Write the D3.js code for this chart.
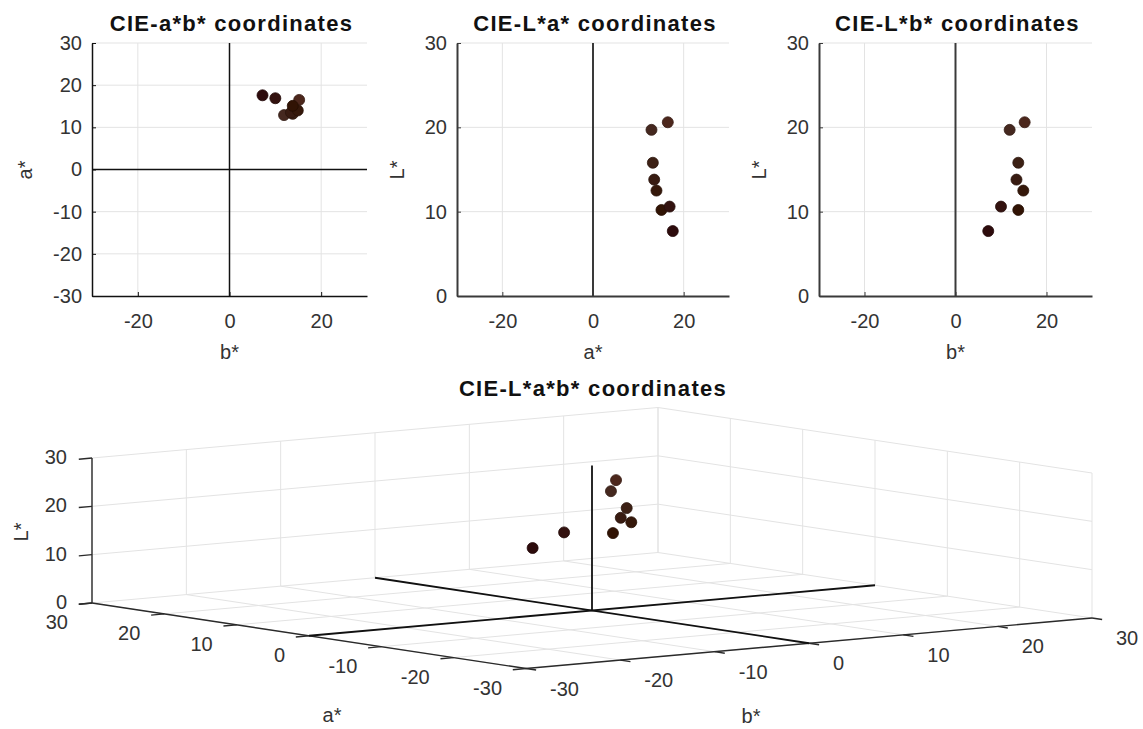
<!DOCTYPE html>
<html>
<head>
<meta charset="utf-8">
<script src="https://cdn.jsdelivr.net/npm/d3@7"></script>
<style>
  body { margin: 0; background: #fff; }
  svg { font-family: "Liberation Sans", Arial, sans-serif; }
  .tick text { font-size: 20px; fill: #333; }
  .ttl { font-size: 22px; font-weight: bold; fill: #111; letter-spacing: 1.3px; }
  .lbl { font-size: 20px; fill: #333; }
</style>
</head>
<body>
<script>
// measured samples: lightness, a*, b*
var pointL = [19.7, 20.6, 15.8, 13.8, 12.5, 10.2, 10.6, 7.7];
var pointA = [12.9, 16.5, 13.2, 13.5, 14.0, 15.1, 16.9, 17.6];
var pointB = [11.9, 15.2, 13.8, 13.4, 14.9, 13.8, 10.0, 7.2];

var ticksX2d = [-20, 0, 20];
var ticksAB = [-30, -20, -10, 0, 10, 20, 30];
var ticksL = [0, 10, 20, 30];
var ticks3d = [-30, -20, -10, 0, 10, 20, 30];

var titles = ["CIE-a*b* coordinates", "CIE-L*a* coordinates", "CIE-L*b* coordinates", "CIE-L*a*b* coordinates"];

var points = pointL.map(function(L, i) {
    return { L: L, a: pointA[i], b: pointB[i], color: d3.lab(L, pointA[i], pointB[i]).formatHex() };
});

// plain hyphen like matlab, not the unicode minus
var fmt = function(d) { return String(d); };

var svg = d3.select("body").append("svg")
    .attr("width", 1143)
    .attr("height", 729);

var gridColor = "#e3e3e3";

// ---------- 2D panels ----------
function panel2d(cfg) {
    var g = svg.append("g");
    var x = d3.scaleLinear().domain([-30, 30]).range([cfg.left, cfg.right]);
    var y = d3.scaleLinear().domain(cfg.yDomain).range([296, 43]);

    // grid
    g.selectAll(".gx").data(ticksX2d).enter().append("line")
        .attr("x1", function(d) { return x(d); }).attr("x2", function(d) { return x(d); })
        .attr("y1", y.range()[0]).attr("y2", y.range()[1])
        .attr("stroke", gridColor).attr("stroke-width", 1);
    g.selectAll(".gy").data(cfg.yTicks.filter(function(d) { return d !== cfg.yDomain[0]; })).enter().append("line")
        .attr("y1", function(d) { return y(d); }).attr("y2", function(d) { return y(d); })
        .attr("x1", cfg.left).attr("x2", cfg.right)
        .attr("stroke", gridColor).attr("stroke-width", 1);

    // axes
    var xAxis = d3.axisBottom(x).tickValues(ticksX2d).tickFormat(fmt).tickSizeInner(-4).tickSizeOuter(0).tickPadding(18);
    var yAxis = d3.axisLeft(y).tickValues(cfg.yTicks).tickFormat(fmt).tickSizeInner(-4).tickSizeOuter(0).tickPadding(10);
    var gx = g.append("g").attr("transform", "translate(0," + y.range()[0] + ")").call(xAxis);
    var gy = g.append("g").attr("transform", "translate(" + cfg.left + ",0)").call(yAxis);
    [gx, gy].forEach(function(a) {
        a.select(".domain").attr("stroke", cfg.axisColor).attr("stroke-width", cfg.axisWidth);
        a.selectAll(".tick line").attr("stroke", cfg.axisColor);
        a.selectAll(".tick text").attr("font-family", null).attr("font-size", null);
    });
    gx.selectAll(".tick text").attr("dy", "0.72em");

    // zero lines
    g.append("line")
        .attr("x1", x(0)).attr("x2", x(0)).attr("y1", y.range()[0]).attr("y2", y.range()[1])
        .attr("stroke", cfg.axisColor).attr("stroke-width", cfg.axisWidth);
    if (cfg.yDomain[0] < 0) {
        g.append("line")
            .attr("x1", cfg.left).attr("x2", cfg.right).attr("y1", y(0)).attr("y2", y(0))
            .attr("stroke", cfg.axisColor).attr("stroke-width", cfg.axisWidth);
    }

    // points
    g.selectAll("circle").data(points).enter().append("circle")
        .attr("cx", function(d) { return x(d[cfg.xKey]); })
        .attr("cy", function(d) { return y(d[cfg.yKey]); })
        .attr("r", 5.5)
        .attr("fill", function(d) { return d.color; })
        .attr("stroke", function(d) { return d3.color(d.color).darker(0.8); })
        .attr("stroke-width", 0.8);

    // text
    var cx = (cfg.left + cfg.right) / 2;
    g.append("text").attr("class", "ttl").attr("x", cx + 2).attr("y", 31)
        .attr("text-anchor", "middle").text(cfg.title);
    g.append("text").attr("class", "lbl").attr("x", cx).attr("y", 359)
        .attr("text-anchor", "middle").text(cfg.xLabel);
    g.append("text").attr("class", "lbl")
        .attr("transform", "translate(" + (cfg.left - cfg.yLabelOff) + ",170) rotate(-90)")
        .attr("text-anchor", "middle").text(cfg.yLabel);
}

panel2d({ left: 92, right: 367, yDomain: [-30, 30], yTicks: ticksAB, xKey: "b", yKey: "a",
    title: titles[0], xLabel: "b*", yLabel: "a*", axisColor: "#111", axisWidth: 1.5, yLabelOff: 60 });
panel2d({ left: 457, right: 729, yDomain: [0, 30], yTicks: ticksL, xKey: "a", yKey: "L",
    title: titles[1], xLabel: "a*", yLabel: "L*", axisColor: "#3a3a3a", axisWidth: 2, yLabelOff: 53 });
panel2d({ left: 819, right: 1092, yDomain: [0, 30], yTicks: ticksL, xKey: "b", yKey: "L",
    title: titles[2], xLabel: "b*", yLabel: "L*", axisColor: "#3a3a3a", axisWidth: 2, yLabelOff: 53 });

// ---------- 3D panel (orthographic view) ----------
var a3x = d3.scaleLinear().domain([30, -30]).range([92, 526]);
var a3y = d3.scaleLinear().domain([30, -30]).range([603, 668.5]);
var b3x = d3.scaleLinear().domain([-30, 30]).range([0, 566]);
var b3y = d3.scaleLinear().domain([-30, 30]).range([0, -50.5]);
var L3y = d3.scaleLinear().domain([0, 30]).range([0, -145]);

function proj(a, b, L) {
    return [a3x(a) + b3x(b), a3y(a) + b3y(b) + L3y(L)];
}

var g3 = svg.append("g");

function seg(p, q, color, w) {
    var s = proj(p[0], p[1], p[2]), e = proj(q[0], q[1], q[2]);
    g3.append("line")
        .attr("x1", s[0]).attr("y1", s[1]).attr("x2", e[0]).attr("y2", e[1])
        .attr("stroke", color).attr("stroke-width", w);
}

// floor grid
ticks3d.forEach(function(v) {
    seg([v, -30, 0], [v, 30, 0], gridColor, 1);
    seg([30, v, 0], [-30, v, 0], gridColor, 1);
});
// back wall a* = 30
ticks3d.forEach(function(v) { seg([30, v, 0], [30, v, 30], gridColor, 1); });
ticksL.slice(1).forEach(function(v) { seg([30, -30, v], [30, 30, v], gridColor, 1); });
// back wall b* = 30
ticks3d.forEach(function(v) { seg([v, 30, 0], [v, 30, 30], gridColor, 1); });
ticksL.slice(1).forEach(function(v) { seg([30, 30, v], [-30, 30, v], gridColor, 1); });

// axes
var axisCol = "#2a2a2a";
seg([30, -30, 0], [-30, -30, 0], axisCol, 1.4);
seg([-30, -30, 0], [-30, 30, 0], axisCol, 1.4);
seg([30, -30, 0], [30, -30, 30], axisCol, 1.4);
ticks3d.forEach(function(v) {
    seg([v, -30, 0], [v, -31.4, 0], axisCol, 1.4);
    seg([-30, v, 0], [-31.4, v, 0], axisCol, 1.4);
});
ticksL.forEach(function(v) { seg([30, -30, v], [30, -31.4, v], axisCol, 1.4); });

// zero lines
seg([30, 0, 0], [-30, 0, 0], "#111", 1.8);
seg([0, -30, 0], [0, 30, 0], "#111", 1.8);
seg([0, 0, 0], [0, 0, 30], "#111", 1.8);

// tick labels
g3.selectAll(".ta").data(ticks3d).enter().append("text").attr("class", "lbl")
    .attr("x", function(d) { return proj(d, -30, 0)[0] - 24; })
    .attr("y", function(d) { return proj(d, -30, 0)[1] + 19; })
    .attr("dy", "0.35em").attr("text-anchor", "end")
    .text(fmt);
g3.selectAll(".tb").data(ticks3d).enter().append("text").attr("class", "lbl")
    .attr("x", function(d) { return proj(-30, d, 0)[0] + 24; })
    .attr("y", function(d) { return proj(-30, d, 0)[1] + 20; })
    .attr("dy", "0.35em").attr("text-anchor", "start")
    .text(fmt);
g3.selectAll(".tl").data(ticksL).enter().append("text").attr("class", "lbl")
    .attr("x", function(d) { return proj(30, -30, d)[0] - 25; })
    .attr("y", function(d) { return proj(30, -30, d)[1] - 1; })
    .attr("dy", "0.35em").attr("text-anchor", "end")
    .text(fmt);

// points
g3.selectAll("circle").data(points).enter().append("circle")
    .attr("cx", function(d) { return proj(d.a, d.b, d.L)[0]; })
    .attr("cy", function(d) { return proj(d.a, d.b, d.L)[1]; })
    .attr("r", 5.5)
    .attr("fill", function(d) { return d.color; })
    .attr("stroke", function(d) { return d3.color(d.color).darker(0.8); })
    .attr("stroke-width", 0.8);

// titles and labels
g3.append("text").attr("class", "ttl").attr("x", 593).attr("y", 396)
    .attr("text-anchor", "middle").text(titles[3]);
g3.append("text").attr("class", "lbl").attr("x", 332).attr("y", 715)
    .attr("dy", "0.35em").attr("text-anchor", "middle").text("a*");
g3.append("text").attr("class", "lbl").attr("x", 751).attr("y", 716)
    .attr("dy", "0.35em").attr("text-anchor", "middle").text("b*");
g3.append("text").attr("class", "lbl")
    .attr("transform", "translate(28,532) rotate(-90)")
    .attr("text-anchor", "middle").text("L*");
</script>
</body>
</html>
